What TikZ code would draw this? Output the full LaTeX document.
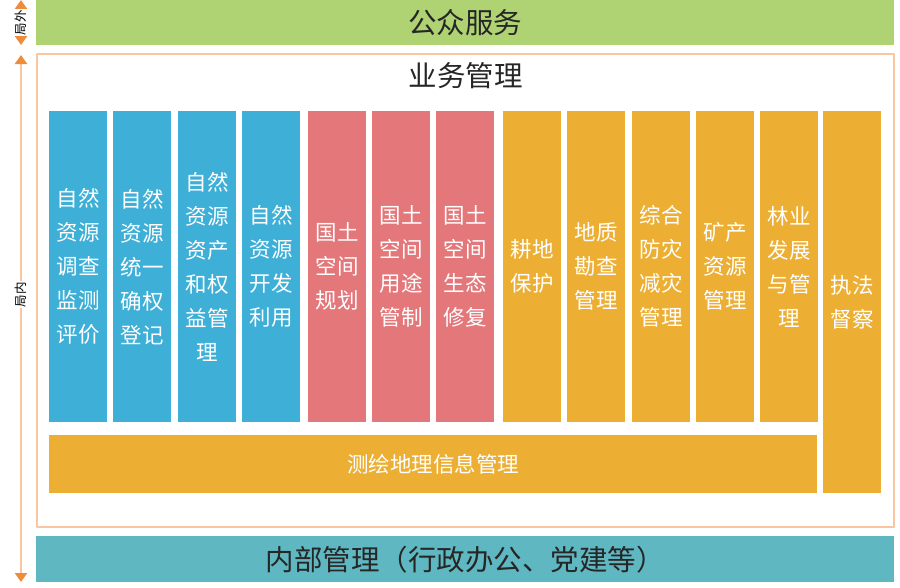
\documentclass[tikz,border=0pt]{standalone}
\usepackage{fontspec}
\setmainfont{Noto Sans CJK SC}
\usetikzlibrary{positioning,arrows.meta}
\definecolor{lvse}{HTML}{AFD373}
\definecolor{lanse}{HTML}{3EAFD7}
\definecolor{hongse}{HTML}{E3777A}
\definecolor{chengse}{HTML}{ECAF33}
\definecolor{qingse}{HTML}{5FB8C1}
\definecolor{kuangse}{HTML}{F8C6A0}
\definecolor{jianse}{HTML}{EE8C3A}
\begin{document}
\begin{tikzpicture}[x=1pt,y=-1pt,line join=round,line cap=round,>=stealth,
    cot/.style={fill=#1,text=white,anchor=north west,inner sep=0pt,minimum width=58pt,minimum height=311pt,align=center,font=\fontsize{21.5}{34}\selectfont},
    thanh/.style={fill=#1,text=black!85,anchor=north west,inner sep=0pt,minimum width=858pt,minimum height=45pt,font=\fontsize{28.5}{30}\selectfont},
    jiantou/.style={draw=kuangse,line width=2.5pt,{Triangle[width=12pt,length=9pt,color=jianse]}-{Triangle[width=12pt,length=9pt,color=jianse]}},
    biaoqian/.style={fill=white,rotate=90,inner sep=1pt,font=\fontsize{12.5}{13}\selectfont}]
    \useasboundingbox (0,0) rectangle (900,587);
    %%Thanh tren, khung giua va thanh duoi
    \node[thanh=lvse] (gongzhong) at (36,0) {公众服务};
    \node[draw=kuangse,line width=2pt,anchor=north west,inner sep=0pt,minimum width=857pt,minimum height=473pt] (yewu) at (36,53) {};
    \node[below=9pt of yewu.north,inner sep=0pt,text=black!85,font=\fontsize{28.5}{30}\selectfont] (yewubiaoti) {业务管理};
    \node[thanh=qingse,minimum height=46pt] (neibu) at (36,536) {内部管理（行政办公、党建等）};
    %%Cac cot
    \foreach \ten/\x/\mau/\chu in {
        c1/49/lanse/{自然\\资源\\调查\\监测\\评价},
        c2/113/lanse/{自然\\资源\\统一\\确权\\登记},
        c3/178/lanse/{自然\\资源\\资产\\和权\\益管\\理},
        c4/242/lanse/{自然\\资源\\开发\\利用},
        c5/308/hongse/{国土\\空间\\规划},
        c6/372/hongse/{国土\\空间\\用途\\管制},
        c7/436/hongse/{国土\\空间\\生态\\修复},
        c8/503/chengse/{耕地\\保护},
        c9/567/chengse/{地质\\勘查\\管理},
        c10/632/chengse/{综合\\防灾\\减灾\\管理},
        c11/696/chengse/{矿产\\资源\\管理},
        c12/760/chengse/{林业\\发展\\与管\\理}}
        \node[cot=\mau] (\ten) at (\x,111) {\chu};
    \node[cot=chengse,minimum width=768pt,minimum height=58pt] (cehui) at (49,435) {测绘地理信息管理};
    \node[cot=chengse,minimum height=382pt] (zhifa) at (823,111) {执法\\督察};
    %%Mui ten ben trai
    \coordinate (wai1) at (21,0);
    \coordinate (wai2) at (21,45);
    \coordinate (nei1) at (21,55);
    \coordinate (nei2) at (21,582);
    \draw[jiantou] (wai1)--(wai2) node[midway,biaoqian] {局外};
    \draw[jiantou] (nei1)--(nei2) node[pos=.455,biaoqian] {局内};
\end{tikzpicture}
\end{document}
